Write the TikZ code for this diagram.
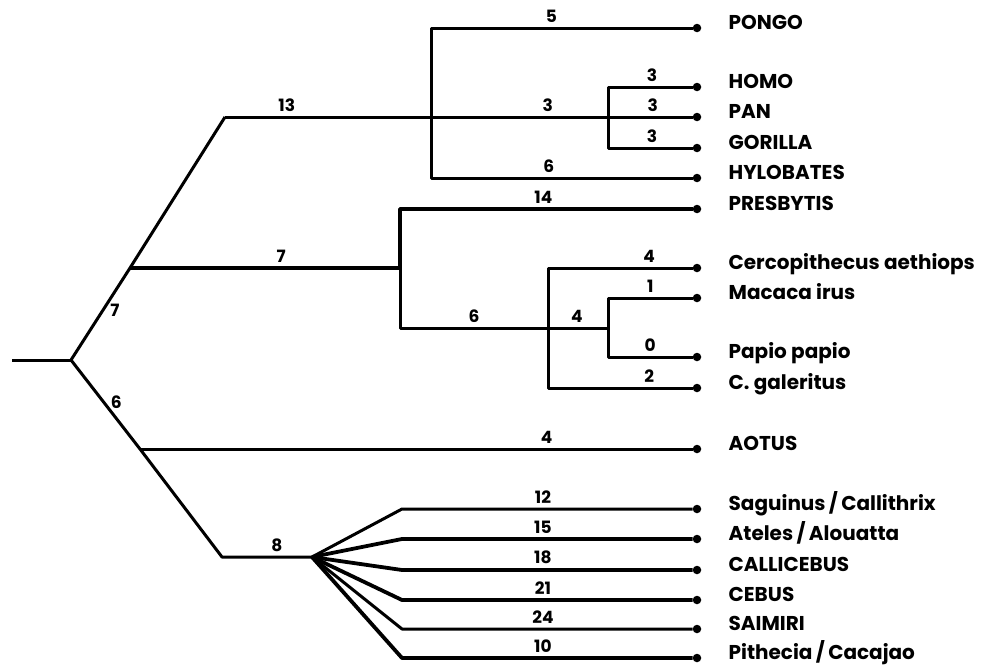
\documentclass[tikz,border=0pt]{standalone}
\usepackage{fontspec}
\setmainfont{Poppins}
\usetikzlibrary{positioning}

\tikzset{
  branch/.style={line width=3pt, line join=round},
  heavy/.style={branch, line width=3.8pt},
  leaf/.style={circle, fill=black, inner sep=0pt, minimum size=8.5pt},
  taxon/.style={inner sep=0pt, anchor=base west, yshift=-1pt, font=\bfseries\fontsize{20}{20}\selectfont},
  dist/.style={above=3pt, inner sep=1pt, font=\bfseries\fontsize{17}{17}\selectfont},
  sdist/.style={anchor=west, inner sep=1pt, xshift=5pt, font=\bfseries\fontsize{17}{17}\selectfont},
}

\begin{document}
\begin{tikzpicture}[x=1pt, y=-1pt]
  \useasboundingbox (0,0) rectangle (992,664);

  % tips with their names
  \foreach \n/\y/\t in {pongo/28/PONGO, homo/87/HOMO, pan/117/PAN, gorilla/148/GORILLA,
      hylobates/178/HYLOBATES, presbytis/209/PRESBYTIS,
      cercopithecus/268/Cercopithecus aethiops, macaca/298/Macaca irus,
      papio/357/Papio papio, galeritus/388/C. galeritus, aotus/449/AOTUS,
      saguinus/509/{Saguinus\,/\,Callithrix}, ateles/539/{Ateles\,/\,Alouatta},
      callicebus/570/CALLICEBUS, cebus/600/CEBUS, saimiri/629/SAIMIRI,
      pithecia/658/{Pithecia\,/\,Cacajao}} {
    \node[leaf] (\n) at (697,\y) {};
    \node[right=27pt of \n, taxon] (\n-name) {\t};
  }

  % inner nodes
  \coordinate (base) at (12,360);
  \coordinate (root) at (71,360);
  \coordinate (old) at (130,268);
  \coordinate (anth) at (225,117);
  \coordinate (hom) at (431,117);
  \coordinate (hpg) at (608,117);
  \coordinate (cat) at (400,268);
  \coordinate (cerc) at (548,328);
  \coordinate (mp) at (608,328);
  \coordinate (aot) at (140,449);
  \coordinate (plat) at (222,557);
  \coordinate (fan) at (312,557);

  % catarrhines
  \draw[branch] (base) -- (root);
  \draw[branch] (root) -- node[sdist, pos=0.54] {7} (old) -- (anth);
  \draw[branch] (anth) -- node[dist, pos=0.30] {13} (hom) -- node[dist, pos=0.66] {3} (hpg)
    -- node[dist, pos=0.53] {3} (pan);
  \draw[branch] (hom) |- node[dist, pos=0.73] {5} (pongo);
  \draw[branch] (hom) |- node[dist, pos=0.725] {6} (hylobates);
  \draw[branch] (hpg) |- node[dist, pos=0.76] {3} (homo);
  \draw[branch] (hpg) |- node[dist, pos=0.76] {3} (gorilla);
  \draw[heavy] (old) -- node[dist, pos=0.56] {7} (cat);
  \draw[heavy] (cat) |- node[dist, pos=0.745] {14} (presbytis);
  \draw[branch] (cat) |- node[dist, pos=0.75] {6} (cerc);
  \draw[branch] (cerc) -- node[dist, pos=0.48] {4} (mp);
  \draw[branch] (cerc) |- node[dist, pos=0.85] {4} (cercopithecus);
  \draw[branch] (cerc) |- node[dist, pos=0.85] {2} (galeritus);
  \draw[branch] (mp) |- node[dist, pos=0.75] {1} (macaca);
  \draw[branch] (mp) |- node[dist, pos=0.75] {0} (papio);

  % platyrrhines
  \draw[branch] (root) -- node[sdist, pos=0.47] {6} (aot) -- (plat)
    -- node[dist, pos=0.61] {8} (fan);
  \draw[branch] (aot) -- node[dist, pos=0.736] {4} (aotus);
  \foreach \n/\y/\d/\w in {saguinus/509/12/branch, ateles/539/15/heavy,
      callicebus/570/18/heavy, cebus/600/21/heavy, saimiri/629/24/branch,
      pithecia/658/10/heavy} {
    \draw[\w] (fan) -- (402,\y) -- node[dist, pos=0.485] {\d} (\n);
  }
\end{tikzpicture}
\end{document}
